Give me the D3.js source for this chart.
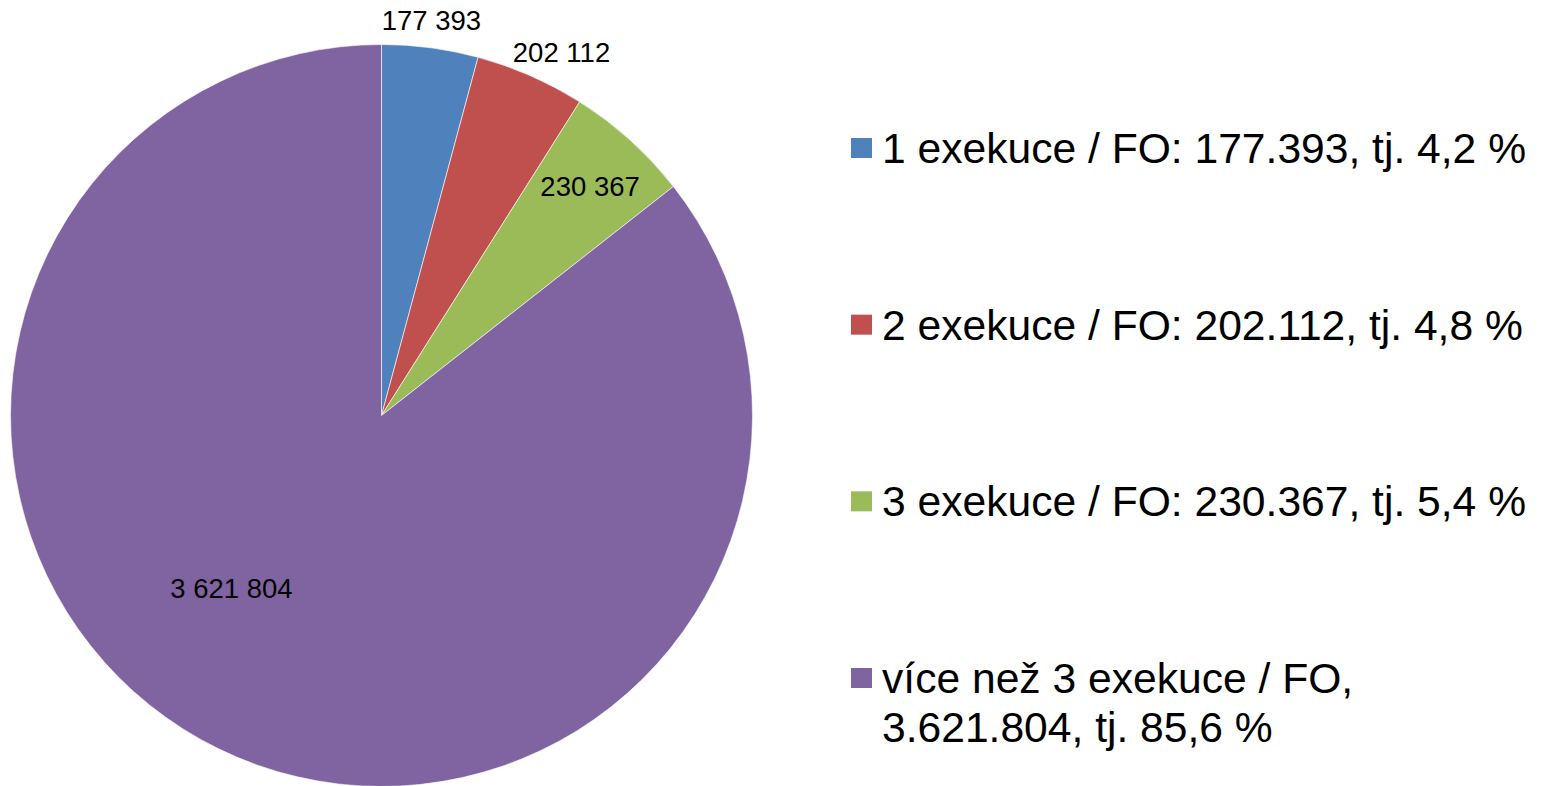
<!DOCTYPE html>
<html><head><meta charset="utf-8">
<script src="https://cdn.jsdelivr.net/npm/d3@7"></script>
<style>html,body{margin:0;padding:0;background:#fff;}svg{display:block;}</style>
</head><body><svg id="c" width="1544" height="786"></svg>
<script>
// Data
const categories = ["1 exekuce / FO", "2 exekuce / FO", "3 exekuce / FO", "více než 3 exekuce / FO"];
const values = [177393, 202112, 230367, 3621804];
const valueLabels = ["177 393", "202 112", "230 367", "3 621 804"];
const legendLabels = [
  ["1 exekuce / FO: 177.393, tj. 4,2 %"],
  ["2 exekuce / FO: 202.112, tj. 4,8 %"],
  ["3 exekuce / FO: 230.367, tj. 5,4 %"],
  ["více než 3 exekuce / FO,", "3.621.804, tj. 85,6 %"]
];
const colors = ["#4F81BD", "#C0504D", "#9BBB59", "#8064A2"];

// Layout (style, not data)
const cx = 381.5, cy = 415.5, R = 371;
const labelPlace = [ {r: 398, da: -0.35}, {r: 405, da: 2.7}, {r: 310, da: 0.2}, {r: 229, da: 15} ];
const font = "'Liberation Sans', Arial, sans-serif";

const svg = d3.select("#c");
const pie = d3.pie().sort(null).value(d => d)(values);
const arc = d3.arc().innerRadius(0).outerRadius(R);
const g = svg.append("g").attr("transform", `translate(${cx},${cy})`);
g.selectAll("path").data(pie).join("path")
  .attr("d", arc).attr("fill", (d, i) => colors[i])
  .attr("stroke", "#fff").attr("stroke-width", 0.6);

g.selectAll("text.lbl").data(pie).join("text").attr("class", "lbl")
  .each(function(d, i) {
    const a = (d.startAngle + d.endAngle) / 2 + labelPlace[i].da * Math.PI / 180;
    const r = labelPlace[i].r;
    d3.select(this).attr("x", r * Math.sin(a)).attr("y", -r * Math.cos(a) + 9.5);
  })
  .attr("text-anchor", "middle").attr("font-family", font).attr("font-size", 27.5)
  .attr("fill", "#000").text((d, i) => valueLabels[i]);

// Legend
const legY = d3.scalePoint().domain(d3.range(categories.length)).range([148, 678]);
const leg = svg.append("g");
categories.forEach((c, i) => {
  const y = legY(i);
  leg.append("rect").attr("x", 851).attr("y", y - 10).attr("width", 21).attr("height", 20).attr("fill", colors[i]);
  const t = leg.append("text").attr("font-family", font).attr("font-size", 42.6).attr("fill", "#000");
  legendLabels[i].forEach((line, j) => {
    t.append("tspan").attr("x", 882).attr("y", y + 15 + j * 49).text(line);
  });
});
</script></body></html>
